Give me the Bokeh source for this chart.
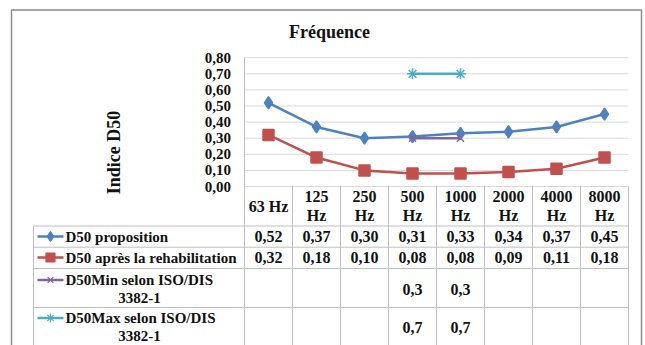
import math
from bokeh.plotting import figure
from bokeh.models import Range1d
from bokeh.core.properties import value
from bokeh.embed import file_html
from bokeh.resources import INLINE

# ---------------- data ----------------
categories = ["63 Hz", "125 Hz", "250 Hz", "500 Hz", "1000 Hz", "2000 Hz", "4000 Hz", "8000 Hz"]
d50_proposition = [0.52, 0.37, 0.30, 0.31, 0.33, 0.34, 0.37, 0.45]
d50_rehabilitation = [0.32, 0.18, 0.10, 0.08, 0.08, 0.09, 0.11, 0.18]
d50_min = [None, None, None, 0.3, 0.3, None, None, None]
d50_max = [None, None, None, 0.7, 0.7, None, None, None]
series_names = ["D50 proposition", "D50 après la rehabilitation",
                "D50Min selon ISO/DIS 3382-1", "D50Max selon ISO/DIS 3382-1"]
series_decimals = [2, 2, 1, 1]
y_ticks = [0.0, 0.1, 0.2, 0.3, 0.4, 0.5, 0.6, 0.7, 0.8]
y_tick_labels = ["0,00", "0,10", "0,20", "0,30", "0,40", "0,50", "0,60", "0,70", "0,80"]
title_text = "Fréquence"
y_label = "Indice D50"

# ---------------- styles / layout ----------------
W, H = 645, 345
PLOT_L = 244.0      # px left of plot area / first table column
COL_W = 48.0        # px per category column
V0_Y = 186.0        # px of value 0
PX_PER_UNIT = 161.0 # px per 1.0 of value
colors = ["#4F81BD", "#C0504D", "#8064A2", "#4BACC6"]
markers = ["diamond", "square", "x", "asterisk"]
msizes = [12, 11, 10, 11]
FONT = value("Liberation Serif")

p = figure(width=W, height=H, output_backend="svg", toolbar_location=None,
           x_range=Range1d(0, W), y_range=Range1d(H, 0),
           x_axis_type=None, y_axis_type=None, min_border=0)
p.extra_x_ranges = {"col": Range1d(-PLOT_L / COL_W, (W - PLOT_L) / COL_W)}
p.extra_y_ranges = {"val": Range1d((V0_Y - H) / PX_PER_UNIT, V0_Y / PX_PER_UNIT)}
p.grid.visible = False
p.outline_line_color = None
p.background_fill_color = "white"
p.border_fill_color = "white"

n = len(categories)
xs = [i + 0.5 for i in range(n)]

def txt(**kw):
    base = dict(text_font=FONT, text_font_style="bold", text_color="#111111",
                text_baseline="middle")
    base.update(kw)
    return base

# outer chart border
p.quad(left=[11], right=[641], top=[9.5], bottom=[352], fill_color=None,
       line_color="#8C8C8C", line_width=1.5)

# gridlines
p.segment(x0=[0] * len(y_ticks), x1=[n] * len(y_ticks), y0=y_ticks, y1=y_ticks,
          x_range_name="col", y_range_name="val", line_color="#D9D9D9", line_width=1)
p.segment(x0=[0], x1=[0], y0=[y_ticks[0]], y1=[y_ticks[-1]],
          x_range_name="col", y_range_name="val", line_color="#BFBFBF", line_width=1)

# tick labels
p.text(x=[-0.28] * len(y_ticks), y=y_ticks, text=y_tick_labels, x_range_name="col",
       y_range_name="val", **txt(text_align="right", text_font_size="15px"))

# title and axis label
p.text(x=[329], y=[31], text=[title_text], **txt(text_align="center", text_font_size="18px"))
p.text(x=[113], y=[152], text=[y_label], angle=math.pi / 2,
       **txt(text_align="center", text_font_size="18px"))

# series
all_series = [d50_proposition, d50_rehabilitation, d50_min, d50_max]
for vals, c, m, s in zip(all_series, colors, markers, msizes):
    yv = [float("nan") if v is None else v for v in vals]
    p.line(x=xs, y=yv, x_range_name="col", y_range_name="val",
           line_color=c, line_width=2.5)
    p.scatter(x=xs, y=yv, x_range_name="col", y_range_name="val", marker=m,
              size=s, fill_color=c, line_color=c, line_width=1.5)

# ---------------- data table ----------------
TABLE_L = 33
TABLE_BOTTOM = 352
row_lines = [225.5, 246.7, 268, 307]
row_first_y = [236, 257, 279.5, 317.5]
row_value_y = [236, 257, 288.5, 326.5]
grid_c = "#BFBFBF"

# column separators
p.segment(x0=list(range(n + 1)), x1=list(range(n + 1)), y0=[V0_Y] * (n + 1),
          y1=[TABLE_BOTTOM] * (n + 1), x_range_name="col", line_color=grid_c, line_width=1)
# row separators
p.segment(x0=[TABLE_L] * len(row_lines), x1=[PLOT_L + n * COL_W] * len(row_lines),
          y0=row_lines, y1=row_lines, line_color=grid_c, line_width=1)
p.segment(x0=[TABLE_L], x1=[TABLE_L], y0=[row_lines[0]], y1=[TABLE_BOTTOM],
          line_color=grid_c, line_width=1)

# header
for i, c in enumerate(categories):
    num, unit = c.split(" ")
    if len(num) <= 2:
        p.text(x=[xs[i]], y=[205.5], text=[c], x_range_name="col",
               **txt(text_align="center", text_font_size="16px"))
    else:
        p.text(x=[xs[i], xs[i]], y=[196, 215], text=[num, unit], x_range_name="col",
               **txt(text_align="center", text_font_size="16px"))

# values
for vals, dec, yrow in zip(all_series, series_decimals, row_value_y):
    tx, tt = [], []
    for i, v in enumerate(vals):
        if v is None:
            continue
        tx.append(xs[i])
        tt.append(f"{v:.{dec}f}".replace(".", ","))
    p.text(x=tx, y=[yrow] * len(tx), text=tt, x_range_name="col",
           **txt(text_align="center", text_font_size="16px"))

# row labels with legend keys
for name, c, m, s, y1 in zip(series_names, colors, markers, msizes, row_first_y):
    p.segment(x0=[37], x1=[63], y0=[y1], y1=[y1], line_color=c, line_width=2.5)
    p.scatter(x=[50], y=[y1], marker=m, size=s - 2, fill_color=c, line_color=c, line_width=1.2)
    if "ISO" in name:
        first, second = name.rsplit(" ", 1)
        p.text(x=[65], y=[y1], text=[first], **txt(text_align="left", text_font_size="15px"))
        p.text(x=[139], y=[y1 + 17.5], text=[second],
               **txt(text_align="center", text_font_size="15px"))
    else:
        p.text(x=[65], y=[y1], text=[name], **txt(text_align="left", text_font_size="15px"))

open("out.html", "w").write(file_html(p, INLINE))
